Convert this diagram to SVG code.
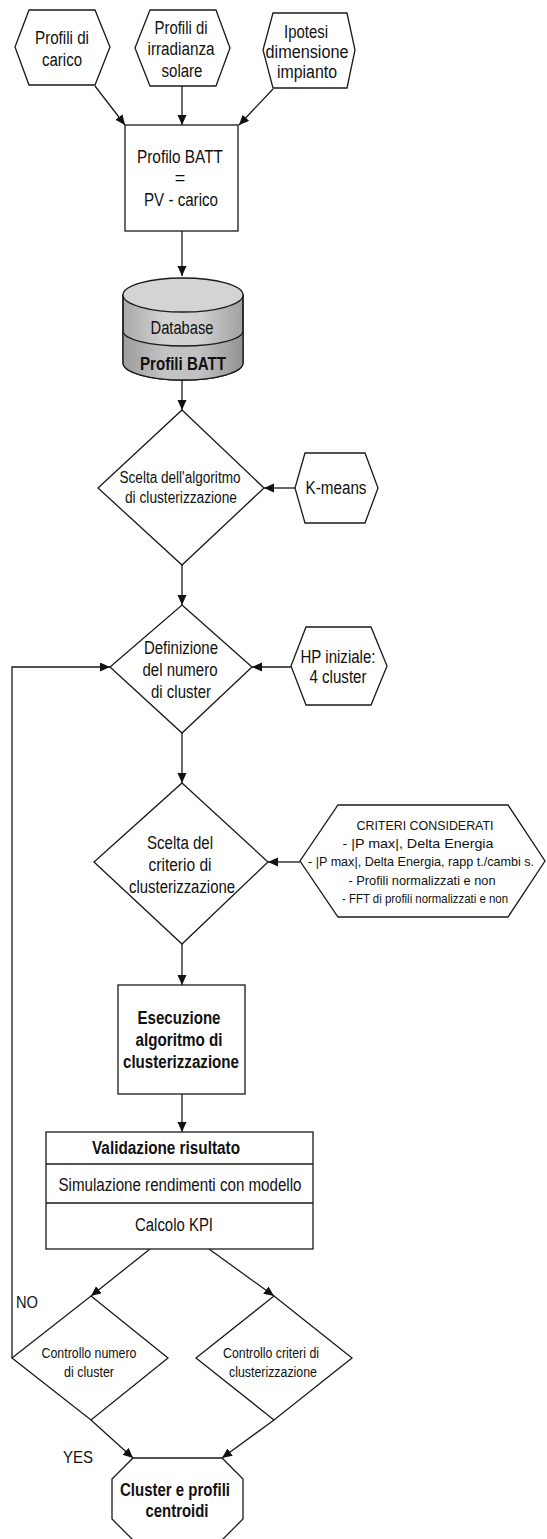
<svg xmlns="http://www.w3.org/2000/svg" width="547" height="1539" viewBox="0 0 547 1539">
<style>
.s{fill:#fff;stroke:#1a1a1a;stroke-width:1.3}
.c{fill:none;stroke:#1a1a1a;stroke-width:1.3}
text{font-family:"Liberation Sans Narrow","Liberation Sans",Arial,sans-serif;fill:#111;text-anchor:middle}
.t18{font-size:18px}
.t16{font-size:16px}
.t13{font-size:13px}
.t14{font-size:14px}
.b{font-weight:bold}
</style>
<defs>
<marker id="ah" markerUnits="userSpaceOnUse" markerWidth="11" markerHeight="10" refX="10" refY="4.5" orient="auto">
<path d="M0,0 L10,4.5 L0,9 z" fill="#111"/>
</marker>
<linearGradient id="cyl" x1="0" y1="0" x2="1" y2="0">
<stop offset="0" stop-color="#a9a9a9"/>
<stop offset="0.35" stop-color="#d2d2d2"/>
<stop offset="0.65" stop-color="#cfcfcf"/>
<stop offset="1" stop-color="#a0a0a0"/>
</linearGradient>
<linearGradient id="cyl2" x1="0" y1="0" x2="1" y2="0">
<stop offset="0" stop-color="#9c9c9c"/>
<stop offset="0.35" stop-color="#c4c4c4"/>
<stop offset="0.65" stop-color="#c0c0c0"/>
<stop offset="1" stop-color="#939393"/>
</linearGradient>
</defs>

<g id="connectors">
<line class="c" x1="95" y1="86" x2="125" y2="125" marker-end="url(#ah)"/>
<line class="c" x1="182" y1="86" x2="182" y2="125" marker-end="url(#ah)"/>
<line class="c" x1="273" y1="89" x2="239" y2="125" marker-end="url(#ah)"/>
<line class="c" x1="182" y1="231" x2="182" y2="276" marker-end="url(#ah)"/>
<line class="c" x1="182" y1="380" x2="182" y2="410" marker-end="url(#ah)"/>
<line class="c" x1="295" y1="488" x2="264" y2="488" marker-end="url(#ah)"/>
<line class="c" x1="182" y1="565" x2="182" y2="605" marker-end="url(#ah)"/>
<line class="c" x1="291" y1="667" x2="252" y2="667" marker-end="url(#ah)"/>
<polyline class="c" points="12,1358 12,667 110,667" marker-end="url(#ah)"/>
<line class="c" x1="182" y1="733" x2="182" y2="783" marker-end="url(#ah)"/>
<line class="c" x1="300" y1="862" x2="268" y2="862" marker-end="url(#ah)"/>
<line class="c" x1="182" y1="944" x2="182" y2="985" marker-end="url(#ah)"/>
<line class="c" x1="182" y1="1094" x2="182" y2="1132" marker-end="url(#ah)"/>
<line class="c" x1="150" y1="1249" x2="91" y2="1296" marker-end="url(#ah)"/>
<line class="c" x1="209" y1="1249" x2="274" y2="1296" marker-end="url(#ah)"/>
<line class="c" x1="91" y1="1420" x2="133" y2="1458" marker-end="url(#ah)"/>
<line class="c" x1="274" y1="1420" x2="222" y2="1458" marker-end="url(#ah)"/>
<text x="27" y="1308" style="font-size:17px" textLength="22" lengthAdjust="spacingAndGlyphs">NO</text>
<text x="78" y="1463" style="font-size:17px" textLength="30" lengthAdjust="spacingAndGlyphs">YES</text>
</g>

<g id="hex-carico">
<polygon class="s" points="29,10 95,10 110,47 95,85 29,85 15,47"/>
<text class="t18" x="62" y="44" textLength="54" lengthAdjust="spacingAndGlyphs">Profili di</text>
<text class="t18" x="62" y="66" textLength="40" lengthAdjust="spacingAndGlyphs">carico</text>
</g>

<g id="hex-irradianza">
<polygon class="s" points="150,10 216,10 230,48 216,86 150,86 135,48"/>
<text class="t18" x="181" y="34" textLength="53" lengthAdjust="spacingAndGlyphs">Profili di</text>
<text class="t18" x="181" y="55" textLength="67" lengthAdjust="spacingAndGlyphs">irradianza</text>
<text class="t18" x="182" y="77" textLength="41" lengthAdjust="spacingAndGlyphs">solare</text>
</g>

<g id="hex-ipotesi">
<polygon class="s" points="273,13 347,13 355,50 347,88 273,88 263,50"/>
<text class="t18" x="306" y="38" textLength="44" lengthAdjust="spacingAndGlyphs">Ipotesi</text>
<text class="t18" x="307" y="58" textLength="83" lengthAdjust="spacingAndGlyphs">dimensione</text>
<text class="t18" x="307" y="78" textLength="60" lengthAdjust="spacingAndGlyphs">impianto</text>
</g>

<g id="box-profilo">
<rect class="s" x="125" y="125" width="113" height="106"/>
<text class="t18" x="180" y="163" textLength="86" lengthAdjust="spacingAndGlyphs">Profilo BATT</text>
<text class="t18" x="180" y="184">=</text>
<text class="t18" x="181" y="206" textLength="74" lengthAdjust="spacingAndGlyphs">PV - carico</text>
</g>

<g id="database">
<path d="M123,295 L123,363 A60,17 0 0 0 243,363 L243,295 Z" fill="url(#cyl)" stroke="#1a1a1a" stroke-width="1.3"/>
<path d="M123,331 A60,15 0 0 0 243,331 L243,363 A60,17 0 0 1 123,363 Z" fill="url(#cyl2)" stroke="none"/>
<path class="c" d="M123,331 A60,15 0 0 0 243,331"/>
<path class="c" d="M123,295 L123,363 A60,17 0 0 0 243,363 L243,295"/>
<ellipse cx="183" cy="295" rx="60" ry="17" fill="#d4d4d4" stroke="#1a1a1a" stroke-width="1.3"/>
<text class="t18" x="182" y="334" textLength="63" lengthAdjust="spacingAndGlyphs">Database</text>
<text class="t18 b" x="183" y="370" textLength="86" lengthAdjust="spacingAndGlyphs">Profili BATT</text>
</g>

<g id="dec-algoritmo">
<polygon class="s" points="182,410 264,488 182,565 98,488"/>
<text class="t16" x="180" y="483" textLength="121" lengthAdjust="spacingAndGlyphs">Scelta dell'algoritmo</text>
<text class="t16" x="181" y="503" textLength="112" lengthAdjust="spacingAndGlyphs">di clusterizzazione</text>
</g>

<g id="hex-kmeans">
<polygon class="s" points="305,453 365,453 378,488 365,523 305,523 295,488"/>
<text class="t18" x="336" y="494" textLength="61" lengthAdjust="spacingAndGlyphs">K-means</text>
</g>

<g id="dec-numero">
<polygon class="s" points="182,605 252,667 182,733 110,667"/>
<text class="t18" x="181" y="654" textLength="74" lengthAdjust="spacingAndGlyphs">Definizione</text>
<text class="t18" x="180" y="676" textLength="75" lengthAdjust="spacingAndGlyphs">del numero</text>
<text class="t18" x="181" y="698" textLength="60" lengthAdjust="spacingAndGlyphs">di cluster</text>
</g>

<g id="hex-hp">
<polygon class="s" points="306,627 371,627 387,666 371,705 306,705 291,666"/>
<text class="t18" x="338" y="663" textLength="75" lengthAdjust="spacingAndGlyphs">HP iniziale:</text>
<text class="t18" x="338" y="683" textLength="57" lengthAdjust="spacingAndGlyphs">4 cluster</text>
</g>

<g id="dec-criterio">
<polygon class="s" points="182,783 268,862 182,944 94,862"/>
<text class="t18" x="180" y="849" textLength="66" lengthAdjust="spacingAndGlyphs">Scelta del</text>
<text class="t18" x="180" y="871" textLength="63" lengthAdjust="spacingAndGlyphs">criterio di</text>
<text class="t18" x="182" y="893" textLength="106" lengthAdjust="spacingAndGlyphs">clusterizzazione</text>
</g>

<g id="hex-criteri">
<polygon class="s" points="338,805 508,805 545,861 508,917 338,917 300,861"/>
<text class="t13" x="425" y="830" textLength="137" lengthAdjust="spacingAndGlyphs">CRITERI CONSIDERATI</text>
<text class="t13" x="418" y="848" textLength="151" lengthAdjust="spacingAndGlyphs">- |P max|, Delta Energia</text>
<text class="t13" x="421" y="866" textLength="226" lengthAdjust="spacingAndGlyphs">- |P max|, Delta Energia, rapp t./cambi s.</text>
<text class="t13" x="422" y="885" textLength="147" lengthAdjust="spacingAndGlyphs">- Profili normalizzati e non</text>
<text class="t13" x="425" y="903" textLength="166" lengthAdjust="spacingAndGlyphs">- FFT di profili normalizzati e non</text>
</g>

<g id="box-esecuzione">
<rect class="s" x="118" y="985" width="127" height="109"/>
<text class="t18 b" x="179" y="1024" textLength="83" lengthAdjust="spacingAndGlyphs">Esecuzione</text>
<text class="t18 b" x="179" y="1046" textLength="87" lengthAdjust="spacingAndGlyphs">algoritmo di</text>
<text class="t18 b" x="181" y="1068" textLength="116" lengthAdjust="spacingAndGlyphs">clusterizzazione</text>
</g>

<g id="box-validazione">
<rect class="s" x="46" y="1132" width="267" height="117"/>
<line class="c" x1="46" y1="1164" x2="313" y2="1164"/>
<line class="c" x1="46" y1="1203" x2="313" y2="1203"/>
<text class="t18 b" x="166" y="1154" textLength="148" lengthAdjust="spacingAndGlyphs">Validazione risultato</text>
<text class="t18" x="180" y="1191" textLength="243" lengthAdjust="spacingAndGlyphs">Simulazione rendimenti con modello</text>
<text class="t18" x="174" y="1231" textLength="78" lengthAdjust="spacingAndGlyphs">Calcolo KPI</text>
</g>

<g id="dec-controllo-numero">
<polygon class="s" points="91,1296 168,1358 91,1420 12,1358"/>
<text class="t14" x="89" y="1358" textLength="95" lengthAdjust="spacingAndGlyphs">Controllo numero</text>
<text class="t14" x="89" y="1377" textLength="50" lengthAdjust="spacingAndGlyphs">di cluster</text>
</g>

<g id="dec-controllo-criteri">
<polygon class="s" points="274,1296 352,1358 274,1420 196,1358"/>
<text class="t14" x="271" y="1358" textLength="96" lengthAdjust="spacingAndGlyphs">Controllo criteri di</text>
<text class="t14" x="273" y="1377" textLength="88" lengthAdjust="spacingAndGlyphs">clusterizzazione</text>
</g>

<g id="oct-cluster">
<polygon class="s" points="133,1458 222,1458 243,1479 243,1519 222,1540 133,1540 112,1519 112,1479"/>
<text class="t18 b" x="175" y="1496" textLength="110" lengthAdjust="spacingAndGlyphs">Cluster e profili</text>
<text class="t18 b" x="177" y="1517" textLength="63" lengthAdjust="spacingAndGlyphs">centroidi</text>
</g>
</svg>
